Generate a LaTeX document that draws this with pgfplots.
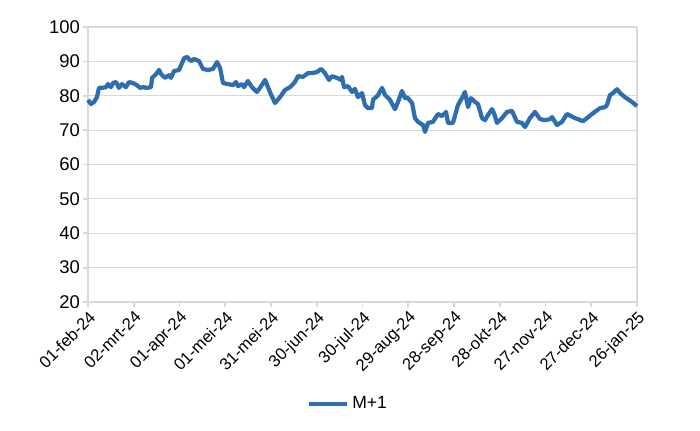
\documentclass[border=0pt]{standalone}
\usepackage{pgfplots}
\pgfplotsset{compat=1.18}
\usepackage{fontspec}
\setmainfont{Liberation Sans}

\definecolor{lineblue}{HTML}{2E6DAE}
\definecolor{gridgray}{HTML}{D9D9D9}

\begin{document}
\begin{tikzpicture}
  \useasboundingbox (-1.76cm,-2.56cm) rectangle (12.24cm,6.04cm);
  \begin{axis}[
      scale only axis,
      width=10.98cm, height=5.5cm,
      xmin=0, xmax=360,
      ymin=20, ymax=100,
      xtick={0,30,...,360},
      xticklabels={01-feb-24,02-mrt-24,01-apr-24,01-mei-24,31-mei-24,30-jun-24,30-jul-24,29-aug-24,28-sep-24,28-okt-24,27-nov-24,27-dec-24,26-jan-25},
      ytick={20,30,...,100},
      x tick label style={rotate=45, anchor=north east, inner sep=1pt, font=\fontsize{9.5}{10}\selectfont},
      y tick label style={inner sep=1.5pt, font=\fontsize{10.5}{12}\selectfont},
      /pgf/number format/assume math mode=true,
      axis x line*=bottom,
      axis y line*=left,
      axis line style={gridgray, line width=1.6pt, -},
      tick align=outside,
      major tick length=0.1cm,
      tick style={gridgray, line width=1pt},
      ymajorgrids,
      grid style={gridgray, line width=0.6pt},
      legend style={at={(0.475,-0.37)}, anchor=center, draw=none, fill=none,
        font=\fontsize{10}{12}\selectfont, legend cell align=left},
      legend image code/.code={\draw[#1, line width=2.4pt] (0cm,0cm) -- (0.75cm,0cm);},
      clip=false,
    ]
    \draw[gridgray, line width=1pt] (rel axis cs:1,0) -- (rel axis cs:1,1);
    \addplot[lineblue, line width=2.4pt, line join=round] coordinates {
      (0,78.8) (2.0,77.6) (3.9,78.2) (5.9,79.6) (7.2,82.3) (9.2,82.3)
      (11.8,82.5) (13.1,83.4) (15.1,82.5) (16.4,83.7) (18.4,84.0) (20.3,82.3)
      (22.3,83.4) (24.9,82.5) (26.9,84.0) (29.5,83.7) (32.1,83.1) (34.1,82.3)
      (36.1,82.5) (38.7,82.3) (41.3,82.5) (42.0,85.2) (44.6,86.3) (46.6,87.5)
      (47.9,86.3) (50.5,85.2) (53.1,86.0) (54.4,85.2) (56.4,87.2) (59.7,87.5)
      (63.0,90.9) (64.9,91.3) (67.5,90.1) (69.5,90.7) (72.8,90.1) (75.4,87.8)
      (78.7,87.5) (82.0,87.8) (84.6,89.8) (86.6,88.1) (88.5,83.7) (91.8,83.4)
      (95.1,83.1) (97.0,84.0) (98.4,82.8) (101.0,83.4) (102.3,82.5) (104.9,84.3)
      (107.5,82.5) (110.8,81.1) (112.8,82.3) (116.1,84.6) (119.3,81.1) (122.6,77.9)
      (125.9,79.6) (129.2,81.7) (132.5,82.5) (135.7,84.0) (137.7,85.7) (141.0,85.5)
      (144.3,86.6) (146.9,86.6) (150.2,86.9) (152.8,87.8) (155.4,86.6) (158.0,84.6)
      (160.0,85.7) (163.3,85.2) (165.9,84.6) (166.6,85.5) (167.9,82.5) (170.5,82.8)
      (173.1,81.1) (175.1,82.0) (177.0,79.6) (179.7,80.8) (181.6,77.3) (183.6,76.4)
      (186.2,76.4) (186.9,78.8) (190.2,80.2) (192.8,82.3) (194.8,80.2) (198.0,78.8)
      (201.3,76.1) (203.3,78.2) (205.9,81.4) (207.9,79.3) (209.2,79.6) (212.5,77.9)
      (214.4,73.5) (216.4,72.4) (219.7,71.5) (221.0,69.5) (223.0,72.1) (226.2,72.4)
      (229.5,74.7) (232.1,74.1) (234.8,75.3) (236.1,72.1) (239.3,72.1) (242.6,77.3)
      (245.2,79.3) (247.2,81.1) (249.2,76.7) (251.1,79.3) (253.8,78.2) (255.7,77.6)
      (258.4,73.5) (260.3,72.9) (262.3,74.4) (264.9,76.1) (266.2,75.0) (268.2,72.1)
      (271.5,73.5) (274.8,75.3) (278.0,75.6) (281.3,72.4) (284.6,72.1) (286.6,70.9)
      (289.8,73.5) (293.1,75.3) (296.4,73.2) (299.7,72.9) (303.0,73.2) (304.3,73.8)
      (307.5,71.5) (310.8,72.4) (314.1,74.7) (319.3,73.5) (324.6,72.6) (327.2,73.5)
      (330.5,74.7) (335.7,76.4) (339.0,76.7) (340.3,77.3) (342.3,80.2) (344.3,80.8)
      (346.9,81.9) (348.9,80.8) (352.1,79.6) (356.7,78.2) (360.0,77.0)
    };
    \legend{M+1}
  \end{axis}
\end{tikzpicture}
\end{document}
